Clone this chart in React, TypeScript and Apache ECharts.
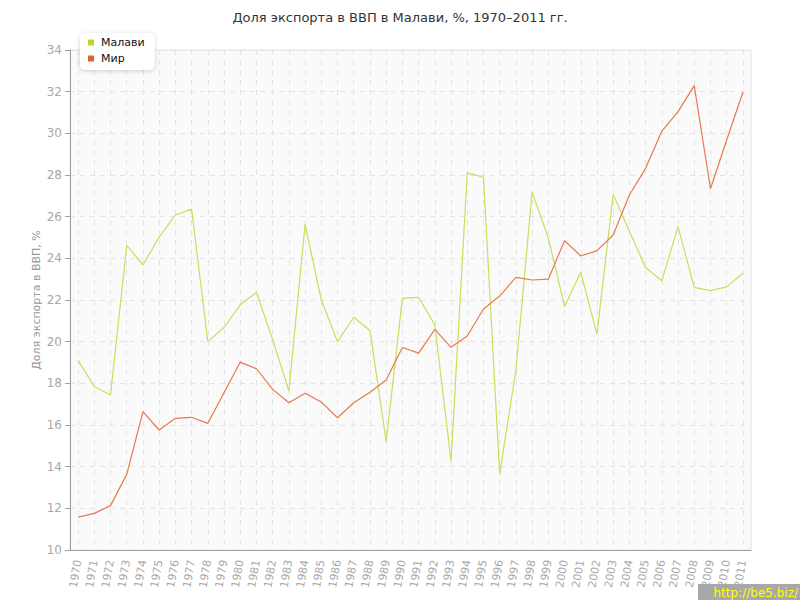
import React, { useEffect, useRef } from "react";
import * as echarts from "echarts";

const years: string[] = [];
for (let y = 1970; y <= 2011; y++) years.push(String(y));

const malawi = [
  19.1, 17.85, 17.44, 24.62, 23.68, 25.02, 26.08, 26.36, 20.0, 20.68,
  21.77, 22.36, 20.1, 17.63, 25.64, 22.0, 20.0, 21.17, 20.54, 15.2,
  22.08, 22.13, 20.8, 14.27, 28.1, 27.89, 13.64, 18.64, 27.17, 24.98,
  21.68, 23.33, 20.36, 27.07, 25.3, 23.56, 22.92, 25.52, 22.61, 22.45,
  22.63, 23.28,
];

const world = [
  11.58, 11.76, 12.13, 13.63, 16.64, 15.76, 16.32, 16.37, 16.08, 17.55,
  19.02, 18.7, 17.71, 17.07, 17.52, 17.1, 16.35, 17.07, 17.57, 18.16,
  19.72, 19.45, 20.59, 19.73, 20.27, 21.57, 22.19, 23.09, 22.96, 23.0,
  24.85, 24.11, 24.37, 25.12, 27.04, 28.32, 30.11, 31.04, 32.29, 27.34,
  29.68, 31.97,
];

const seriesNames = ["Малави", "Мир"];
const title = "Доля экспорта в ВВП в Малави, %, 1970–2011 гг.";
const yName = "Доля экспорта в ВВП, %";

export default function App() {
  const ref = useRef<HTMLDivElement>(null);
  useEffect(() => {
    if (!ref.current) return;
    const chart = echarts.init(ref.current, null, { renderer: "svg" });
    const font = "'DejaVu Sans', Verdana, sans-serif";
    chart.setOption({
      animation: false,
      backgroundColor: "#ffffff",
      textStyle: { fontFamily: font },
      title: {
        text: title,
        left: "center",
        top: 6,
        textStyle: { fontSize: 13, fontWeight: "normal", color: "#333", fontFamily: font },
      },
      legend: {
        data: [
          { name: seriesNames[0], itemStyle: { color: "#b5d92a" } },
          { name: seriesNames[1], itemStyle: { color: "#e0622c" } },
        ],
        orient: "vertical",
        left: 80,
        top: 33,
        itemWidth: 6,
        itemHeight: 6,
        itemGap: 5,
        padding: [4, 10, 6, 8],
        icon: "rect",
        backgroundColor: "#ffffff",
        borderRadius: 5,
        shadowColor: "rgba(0,0,0,0.18)",
        shadowBlur: 4,
        shadowOffsetY: 1,
        textStyle: { fontSize: 11, color: "#111", fontFamily: font, padding: [0, 0, 0, 2] },
      },
      grid: {
        left: 70,
        right: 49,
        top: 50,
        bottom: 50,
        show: true,
        backgroundColor: "#fafafa",
        borderColor: "#e2e2e2",
        borderWidth: 1,
      },
      xAxis: {
        type: "category",
        data: years,
        boundaryGap: true,
        axisLine: { lineStyle: { color: "#a0a0a0" } },
        axisTick: { alignWithLabel: true, length: 5, lineStyle: { color: "#a0a0a0" } },
        axisLabel: { rotate: 80, color: "#a8a8a8", fontSize: 11, margin: 10, interval: 0, fontFamily: font },
        splitLine: {
          show: true,
          alignWithLabel: true,
          lineStyle: { color: "#e4e4e4", type: [5, 5] },
        },
      },
      yAxis: {
        type: "value",
        min: 10,
        max: 34,
        interval: 2,
        name: yName,
        nameLocation: "middle",
        nameGap: 28,
        nameMoveOverlap: false,
        nameTextStyle: { color: "#999", fontSize: 11, fontFamily: font },
        axisLine: { show: true, lineStyle: { color: "#a0a0a0" } },
        axisTick: { show: true, length: 5, lineStyle: { color: "#a0a0a0" } },
        axisLabel: { color: "#a8a8a8", fontSize: 12, margin: 8, fontFamily: font },
        splitLine: { show: true, lineStyle: { color: "#e4e4e4", type: [5, 5] } },
      },
      series: [
        {
          name: seriesNames[0],
          type: "line",
          data: malawi,
          symbol: "none",
          color: "#b5d92a",
          lineStyle: { color: "#c6e05a", width: 1.2 },
        },
        {
          name: seriesNames[1],
          type: "line",
          data: world,
          symbol: "none",
          color: "#e0622c",
          lineStyle: { color: "#e8794e", width: 1.2 },
        },
      ],
      graphic: [
        {
          type: "rect",
          right: 0,
          bottom: 0,
          shape: { width: 102, height: 16 },
          style: { fill: "#a8a8a8" },
          z: 100,
        },
        {
          type: "text",
          right: 2,
          bottom: 1,
          style: { text: "http://be5.biz/", fill: "#ffff00", fontSize: 12, fontFamily: font },
          z: 101,
        },
      ],
    });
    return () => chart.dispose();
  }, []);
  return (
    <div
      ref={ref}
      style={{ position: "absolute", left: 0, top: 0, width: 800, height: 600 }}
    />
  );
}
